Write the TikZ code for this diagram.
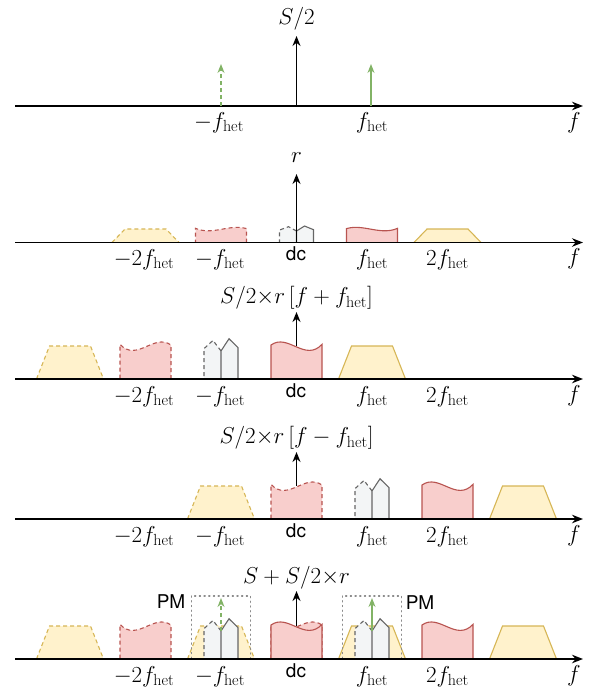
\RequirePackage{fix-cm}
\documentclass[tikz,border=0pt]{standalone}
\usepackage{fontspec}
\newfontfamily\hvfont{TeX Gyre Heros}
\usetikzlibrary{arrows.meta}
\definecolor{yelF}{HTML}{FFF2CC}
\definecolor{yelD}{HTML}{D6B656}
\definecolor{redF}{HTML}{F8CECC}
\definecolor{redD}{HTML}{B85450}
\definecolor{gryF}{HTML}{F3F5F6}
\definecolor{gryD}{HTML}{666666}
\definecolor{grnC}{HTML}{82B366}
\newcommand{\het}{\mathrm{het}}
% trapezoid: cx, axis y, h, extra style
\newcommand{\TrapS}[4]{%
  \fill[yelF] (#1-33.5,#2) -- (#1-20.5,#2-#3) -- (#1+20.5,#2-#3) -- (#1+33.5,#2) -- cycle;
  \draw[yelD,shapeline,#4] (#1-33.5,#2) -- (#1-20.5,#2-#3) -- (#1+20.5,#2-#3) -- (#1+33.5,#2);}
% wave: cx, axis y, h, mirror (1 or -1), extra style
\newcommand{\WaveS}[5]{%
  \fill[redF] ({#1-(#4)*25.5},#2) -- ({#1-(#4)*25.5},{#2-1.03*#3})
    .. controls ({#1-(#4)*8.5},{#2-1.4*#3}) and ({#1+(#4)*8.5},{#2-0.5*#3}) ..
    ({#1+(#4)*25.5},{#2-1.05*#3}) -- ({#1+(#4)*25.5},#2) -- cycle;
  \draw[redD,shapeline,#5] ({#1-(#4)*25.5},#2) -- ({#1-(#4)*25.5},{#2-1.03*#3})
    .. controls ({#1-(#4)*8.5},{#2-1.4*#3}) and ({#1+(#4)*8.5},{#2-0.5*#3}) ..
    ({#1+(#4)*25.5},{#2-1.05*#3}) -- ({#1+(#4)*25.5},#2);}
% gray pair of houses: cx, axis y, h
\newcommand{\GrayS}[3]{%
  \fill[gryF] (#1,#2) -- (#1,{#2-0.85*#3}) -- (#1-8,{#2-1.17*#3}) -- (#1-17,{#2-0.92*#3}) -- (#1-17,#2) -- cycle;
  \draw[gryD,shapeline,dsh] (#1,{#2-0.85*#3}) -- (#1-8,{#2-1.17*#3}) -- (#1-17,{#2-0.92*#3}) -- (#1-17,#2);
  \fill[gryF] (#1,#2) -- (#1,{#2-0.85*#3}) -- (#1+8,{#2-1.22*#3}) -- (#1+17,{#2-0.95*#3}) -- (#1+17,#2) -- cycle;
  \draw[gryD,shapeline] (#1,#2) -- (#1,{#2-0.85*#3}) -- (#1+8,{#2-1.22*#3}) -- (#1+17,{#2-0.95*#3}) -- (#1+17,#2);}
% axis with f label: y, name
\newcommand{\AxisF}[2]{%
  \coordinate (#2s) at (15,#1);
  \coordinate (#2e) at (583,#1);
  \draw[axisline] (#2s) -- (#2e);
  \node[mlbl] (#2f) at (574,#1+22) {$f$};}
% frequency labels: y of axis, prefix
\newcommand{\FLabels}[2]{%
  \node[mlbl] (#2m2) at (144,#1+23) {$-2f_{\het}$};
  \node[mlbl] (#2m1) at (220,#1+23) {$-f_{\het}$};
  \node[slbl] (#2dc) at (296,#1+18) {dc};
  \node[mlbl] (#2p1) at (372,#1+23) {$f_{\het}$};
  \node[mlbl] (#2p2) at (447.5,#1+23) {$2f_{\het}$};}
\tikzset{
  axisline/.style={line width=1.7pt,-{Stealth[length=11pt,width=8.5pt]}},
  sigarrow/.style={line width=1.6pt,-{Stealth[length=10pt,width=8pt]}},
  loarrow/.style={grnC,line width=1.3pt,-{Stealth[length=9pt,width=7pt]}},
  dsh/.style={dash pattern=on 4pt off 3pt},
  shapeline/.style={line width=1.1pt},
  mlbl/.style={inner sep=0pt,anchor=base,font=\fontsize{23}{26}\selectfont},
  slbl/.style={inner sep=0pt,anchor=base,font=\fontsize{19}{21}\selectfont\hvfont},
  tlbl/.style={inner sep=0pt,font=\fontsize{23}{26}\selectfont},
  pmlbl/.style={inner sep=0pt,font=\fontsize{19}{21}\selectfont\hvfont},
  pmbox/.style={draw=black!45,line width=1.2pt,dash pattern=on 1.2pt off 3.5pt,line cap=round},
}
\begin{document}
\begin{tikzpicture}[x=1pt,y=-1pt]
\useasboundingbox (0,0) rectangle (590,688);
% ---------- panel 1
\AxisF{106}{a1}
\coordinate (s1b) at (296.5,106);
\coordinate (s1t) at (296.5,36);
\draw[sigarrow] (s1b) -- (s1t);
\node[tlbl] (t1) at (296.5,19) {$S/2$};
\coordinate (g1b) at (221,106); \coordinate (g1t) at (221,64);
\coordinate (g2b) at (371,106); \coordinate (g2t) at (371,64);
\draw[loarrow,dsh] (g1b) -- (g1t);
\draw[loarrow] (g2b) -- (g2t);
\node[mlbl] (l1m) at (219,128) {$-f_{\het}$};
\node[mlbl] (l1p) at (372,128) {$f_{\het}$};
% ---------- panel 2
\TrapS{145.5}{242.5}{13.5}{dsh}
\WaveS{221}{242.5}{13.5}{-1}{dsh}
\GrayS{296.5}{242.5}{13.5}
\WaveS{372}{242.5}{13.5}{1}{}
\TrapS{447.5}{242.5}{13.5}{}
\AxisF{242.5}{a2}
\coordinate (s2b) at (296.5,242.5);
\coordinate (s2t) at (296.5,174);
\draw[sigarrow] (s2b) -- (s2t);
\node[tlbl] (t2) at (296.5,158) {$r$};
\FLabels{242.5}{q2}
% ---------- panel 3
\TrapS{70}{379}{33}{dsh}
\WaveS{145.5}{379}{33}{-1}{dsh}
\GrayS{221}{379}{33}
\WaveS{296.5}{379}{33}{1}{}
\TrapS{372}{379}{33}{}
\AxisF{379}{a3}
\coordinate (s3b) at (296.5,346);
\coordinate (s3t) at (296.5,312);
\draw[sigarrow] (s3b) -- (s3t);
\node[tlbl] (t3) at (296.5,298) {$S/2{\times}r\left[f+f_{\het}\right]$};
\FLabels{379}{q3}
% ---------- panel 4
\TrapS{221}{519}{33}{dsh}
\WaveS{296.5}{519}{33}{-1}{dsh}
\GrayS{372}{519}{33}
\WaveS{447.5}{519}{33}{1}{}
\TrapS{523}{519}{33}{}
\AxisF{519}{a4}
\coordinate (s4b) at (296.5,486);
\coordinate (s4t) at (296.5,452);
\draw[sigarrow] (s4b) -- (s4t);
\node[tlbl] (t4) at (296.5,438) {$S/2{\times}r\left[f-f_{\het}\right]$};
\FLabels{519}{q4}
% ---------- panel 5
\TrapS{70}{659}{33}{dsh}
\WaveS{145.5}{659}{33}{-1}{dsh}
\TrapS{221}{659}{33}{dsh}
\GrayS{221}{659}{33}
\WaveS{296.5}{659}{33}{-1}{dsh}
\WaveS{296.5}{659}{33}{1}{}
\TrapS{372}{659}{33}{}
\GrayS{372}{659}{33}
\WaveS{447.5}{659}{33}{1}{}
\TrapS{523}{659}{33}{}
\coordinate (g3b) at (221,631); \coordinate (g3t) at (221,598);
\coordinate (g4b) at (372,631); \coordinate (g4t) at (372,598);
\draw[loarrow,dsh] (g3b) -- (g3t);
\draw[loarrow] (g4b) -- (g4t);
\draw[pmbox] (191.5,596) rectangle (250.5,659);
\draw[pmbox] (342.5,596) rectangle (401.5,659);
\node[pmlbl] (pm1) at (171,602) {PM};
\node[pmlbl] (pm2) at (420,603) {PM};
\AxisF{659}{a5}
\coordinate (s5b) at (296.5,626);
\coordinate (s5t) at (296.5,591);
\draw[sigarrow] (s5b) -- (s5t);
\node[tlbl] (t5) at (296.5,578) {$S+S/2{\times}r$};
\FLabels{659}{q5}
\end{tikzpicture}
\end{document}
